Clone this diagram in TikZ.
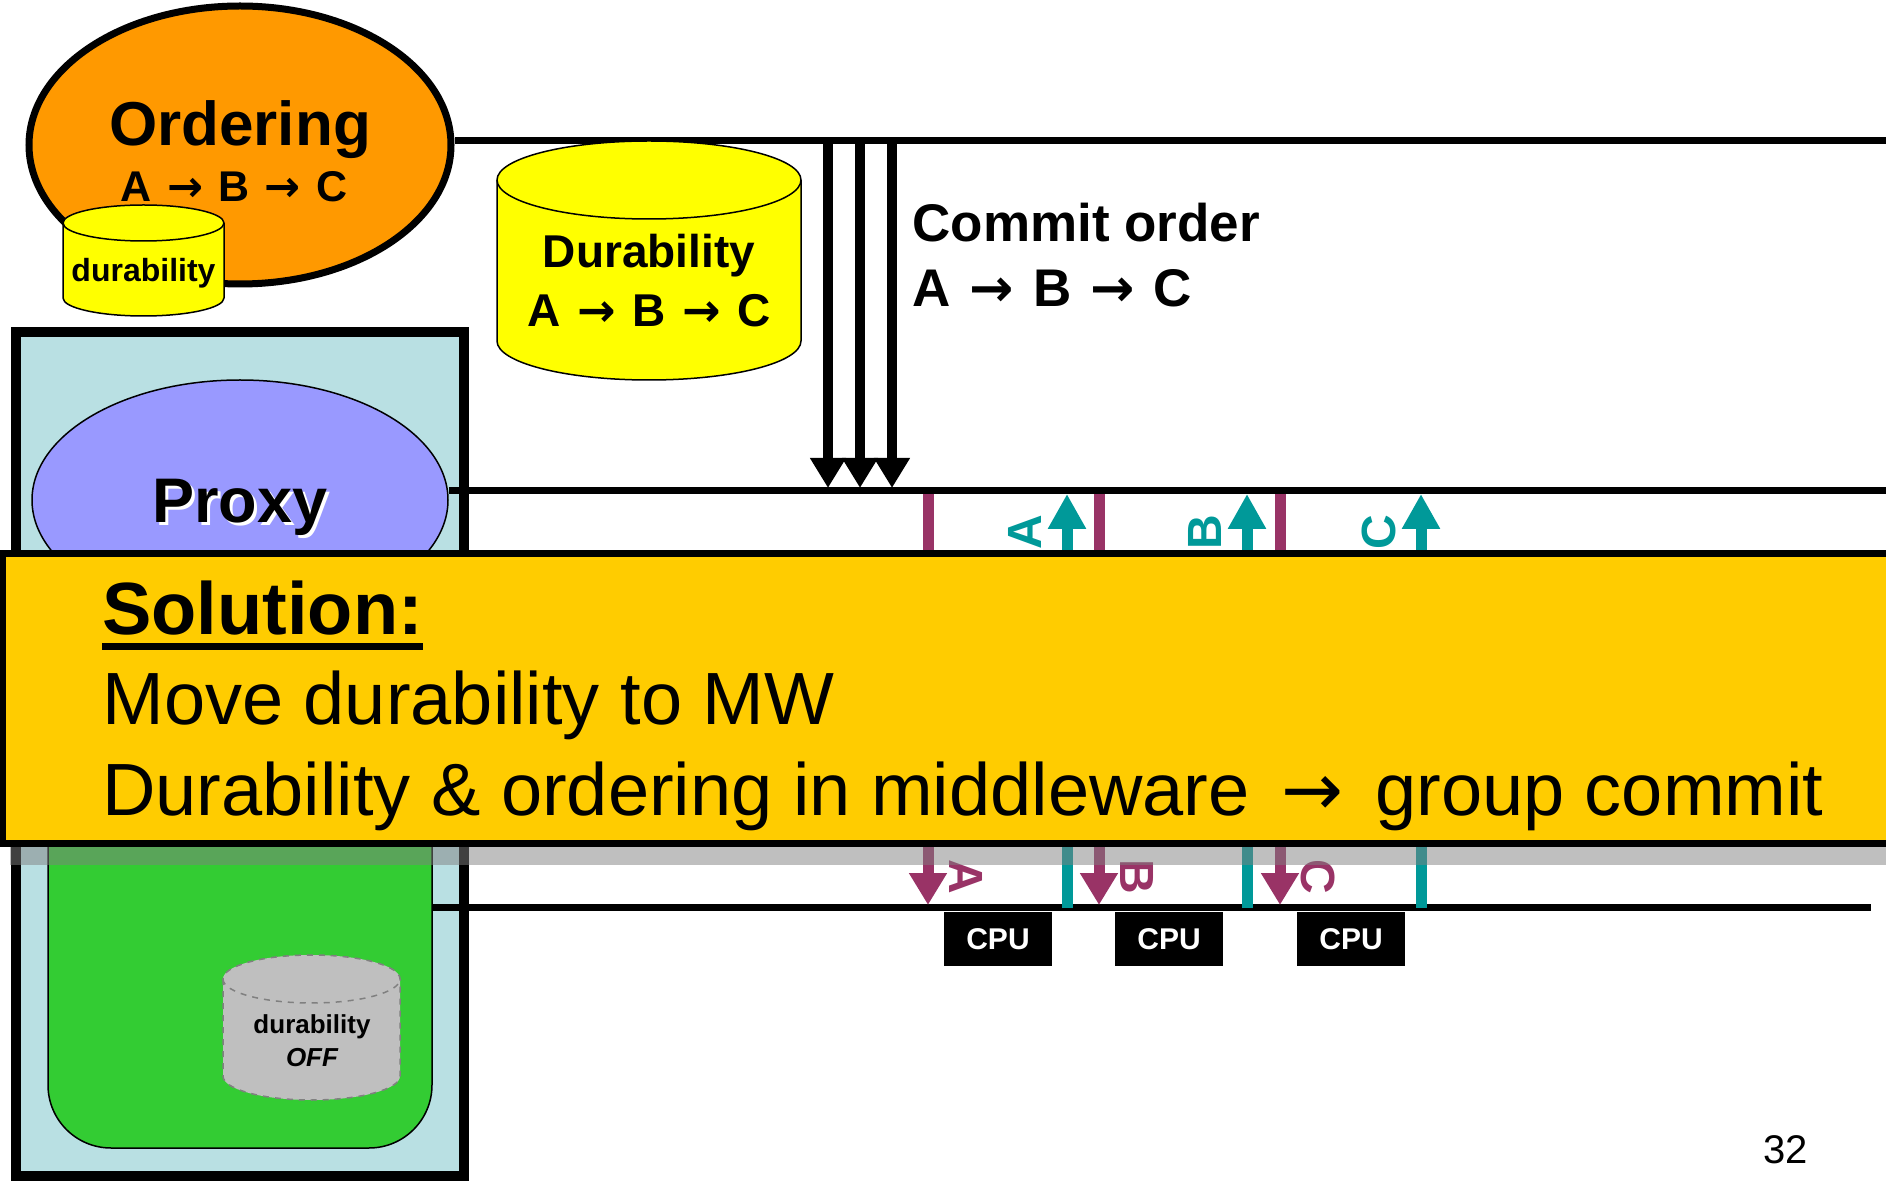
\documentclass[tikz,border=0pt]{standalone}
\usepackage{fontspec}
\setmainfont{Liberation Sans}
\newfontfamily\symfont{DejaVu Sans}
\usetikzlibrary{arrows.meta,positioning,shapes.geometric}
\definecolor{ordorange}{HTML}{FF9900}
\definecolor{dbyellow}{HTML}{FFFF00}
\definecolor{boxcyan}{RGB}{185,224,227}
\definecolor{proxyblue}{HTML}{9999FF}
\definecolor{dbgreen}{HTML}{33CC33}
\definecolor{solyellow}{HTML}{FFCC00}
\definecolor{mwmagenta}{HTML}{993366}
\definecolor{mwteal}{HTML}{009999}
\newcommand{\fs}[1]{\fontsize{#1pt}{1.2\dimexpr#1pt\relax}\selectfont}
\newcommand{\ra}{\kern0.08em{\symfont\bfseries →}\kern0.08em}
\newcommand{\abc}{A \ra{} B \ra{} C}
\newcommand{\dbcyl}[6]{%
  \draw[#1] ({#2-#5},{#3+#6}) -- ({#2-#5},{#4-#6})
    arc[start angle=180, end angle=0, x radius=#5, y radius=#6]
    -- ({#2+#5},{#3+#6})
    arc[start angle=0, end angle=-180, x radius=#5, y radius=#6] -- cycle;
  \draw[#1, fill=none] ({#2-#5},{#3+#6})
    arc[start angle=180, end angle=0, x radius=#5, y radius=#6];}
\tikzset{
  busline/.style   = {line width=3.5pt},
  ordering/.style  = {ellipse, draw, line width=3.5pt, fill=ordorange, inner sep=0pt,
                      minimum width=211pt, minimum height=139pt},
  proxy/.style     = {ellipse, draw, line width=0.75pt, fill=proxyblue, inner sep=0pt,
                      minimum width=208pt, minimum height=120pt},
  ycyl/.style      = {draw=black, line width=0.75pt, fill=dbyellow},
  offcyl/.style    = {draw=black!50, dashed, line width=0.75pt, fill=black!25},
  greenbox/.style  = {draw, line width=0.75pt, fill=dbgreen, rounded corners=31.5pt},
  cyanbox/.style   = {draw, line width=5pt, fill=boxcyan},
  bannerbox/.style = {draw, line width=3.5pt, fill=solyellow},
  commitarr/.style = {-{Triangle[length=15pt,width=17pt]}, line width=5pt},
  tealarr/.style   = {-{Triangle[length=17.5pt,width=18pt]}, line width=5.5pt, mwteal},
  magarr/.style    = {-{Triangle[length=16pt,width=18pt]}, line width=5.5pt, mwmagenta},
  tealbar/.style   = {line width=5.5pt, mwteal},
  magbar/.style    = {line width=5.5pt, mwmagenta},
  txt/.style       = {inner sep=0pt, anchor=base},
  lettr/.style     = {inner sep=0pt, font=\fs{24}\bfseries},
  cpubox/.style    = {fill=black, text=white, font=\fs{15}\bfseries,
                      minimum width=54pt, minimum height=27pt, inner sep=0pt},
}
\begin{document}
\begin{tikzpicture}[x=0.5pt,y=-0.5pt]
\useasboundingbox (0,0) rectangle (1886,1181);
% ordering and durability
\node[ordering] (ord) at (240,145) {};
\coordinate (bus1) at (1886,141);
\draw[busline] (bus1 -| ord.east) -- (bus1);
\node[txt, font=\fs{31}\bfseries] (ordtxt) at (240,146) {Ordering};
\node[txt, font=\fs{21.5}\bfseries] (ordabc) at (234,202) {\abc};
\dbcyl{ycyl}{143.5}{205}{316}{80.5}{18}
\node[txt, font=\fs{16}\bfseries] (dur1) at (143.5,282) {durability};
\dbcyl{ycyl}{649}{141}{380}{152}{39}
\node[txt, font=\fs{23}\bfseries] (dur2) at (649,268) {Durability};
\node[txt, font=\fs{23}\bfseries] (dur2abc) at (649,327) {\abc};
\node[txt, anchor=base west, font=\fs{26.5}\bfseries] (cmt) at (912,242) {Commit order};
\node[txt, anchor=base west, font=\fs{26.5}\bfseries] (cmtabc) at (912,307) {\abc};
% proxy and database
\draw[cyanbox] (16,332) rectangle (464,1176);
\node[proxy] (prx) at (240,500) {};
\coordinate (bus2) at (1886,491);
\draw[busline] (bus2 -| prx.east) -- (bus2);
\node[txt, font=\fs{31.5}\bfseries, text=white] at (243,526) {Proxy};
\node[txt, font=\fs{31.5}\bfseries] (prxtxt) at (240,523) {Proxy};
\draw[greenbox] (48,600) rectangle (432,1148);
\dbcyl{offcyl}{311.5}{955}{1100}{88.5}{24}
\node[txt, font=\fs{13}\bfseries] (off1) at (312,1033) {durability};
\node[txt, font=\fs{13}\bfseries\itshape] (off2) at (312,1066) {OFF};
\coordinate (bus3w) at (432,907);
\coordinate (bus3e) at (1871,907);
\draw[busline] (bus3w) -- (bus3e);
% commit arrows
\foreach \x in {828,860,892}
  \draw[commitarr] (\x,141) -- (\x,488);
\foreach \m/\t/\l in {928/1067/A,1099/1247/B,1280/1421/C} {
  \draw[magbar] (\m,494) -- (\m,551);
  \draw[tealarr] (\t,551) -- (\t,494);
  \node[lettr, mwteal, rotate=90] at (\t-42,532) {\l};
  \draw[magarr] (\m,847) -- (\m,905);
  \draw[tealbar] (\t,847) -- (\t,908);
  \node[lettr, mwmagenta, rotate=-90] at (\m+38,877) {\l};
}
\node[cpubox] (cpu1) at (998,939) {CPU};
\node[cpubox] (cpu2) at (1169,939) {CPU};
\node[cpubox] (cpu3) at (1351,939) {CPU};
% solution banner
\fill[black!50, opacity=0.5] (10,847) rectangle (1886,865);
\draw[bannerbox] (2,553.5) rectangle (1900,843.5);
\node[txt, anchor=base west, font=\fs{37}\bfseries] (sol) at (102,635) {Solution:};
\draw[line width=3.5pt] ([yshift=-5.75pt]sol.base west) -- ([yshift=-5.75pt]sol.base east);
\node[txt, anchor=base west, font=\fs{37}] (sol1) at (102,725) {Move durability to MW};
\node[txt, anchor=base west, font=\fs{37}] (sol2) at (102,815)
  {Durability \& ordering in middleware \kern0.15em{\symfont →}\kern0.15em{} group commit};
\node[txt, anchor=base west, font=\fs{20}] (pg) at (1763,1163) {32};
\end{tikzpicture}
\end{document}
